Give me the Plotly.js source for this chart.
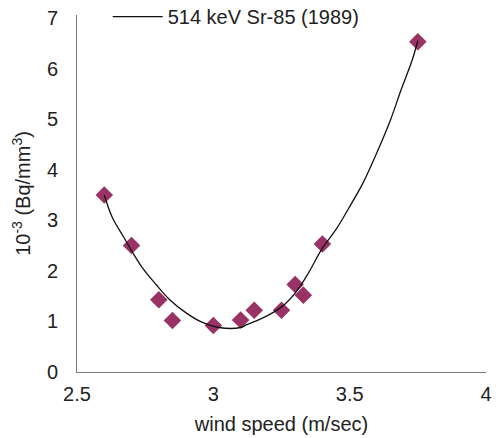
<!DOCTYPE html>
<html>
<head>
<meta charset="utf-8">
<script src="https://cdn.plot.ly/plotly-3.0.1.min.js"></script>
<style>html,body{margin:0;padding:0;background:#fff;}#chart{width:496px;height:438px;}</style>
</head>
<body>
<div id="chart"></div>
<script>
// Measured points
const windSpeed = [2.6, 2.7, 2.8, 2.85, 3.0, 3.1, 3.15, 3.25, 3.3, 3.33, 3.4, 3.75];
const activity  = [3.5, 2.5, 1.43, 1.02, 0.92, 1.03, 1.22, 1.22, 1.73, 1.52, 2.53, 6.53];
// Trend curve
const curveX = [2.60, 2.63, 2.67, 2.70, 2.74, 2.79, 2.84, 2.90, 2.96, 3.02, 3.10, 3.12, 3.17, 3.22, 3.26, 3.31, 3.35, 3.40, 3.45, 3.50, 3.55, 3.60, 3.65, 3.69, 3.73, 3.75];
const curveY = [3.50, 3.05, 2.68, 2.40, 2.06, 1.73, 1.43, 1.17, 0.98, 0.88, 0.88, 0.93, 1.04, 1.18, 1.33, 1.63, 1.97, 2.45, 2.82, 3.27, 3.75, 4.34, 4.99, 5.60, 6.18, 6.55];
const seriesName = "514 keV Sr-85 (1989)";
const xTicks = [2.5, 3, 3.5, 4];
const xTickText = ["2.5", "3", "3.5", "4"];
const yTicks = [0, 1, 2, 3, 4, 5, 6, 7];

const font = "Liberation Sans, Arial, Helvetica, sans-serif";
const traces = [
  {x: windSpeed, y: activity, type: "scatter", mode: "markers", showlegend: false,
   marker: {symbol: "diamond", size: 13.5, color: "#993366"}},
  {x: curveX, y: curveY, type: "scatter", mode: "lines", name: seriesName,
   line: {color: "#111", width: 1.3, shape: "spline"}}
];
const layout = {
  width: 496, height: 438,
  margin: {l: 77, r: 10, t: 15, b: 66, autoexpand: false},
  paper_bgcolor: "#fff", plot_bgcolor: "#fff",
  font: {family: font, size: 20, color: "#222"},
  showlegend: true,
  legend: {x: 0.075, xanchor: "left", y: 1.05, yanchor: "top", bgcolor: "rgba(0,0,0,0)",
           font: {size: 20, color: "#222"}, itemwidth: 50},
  xaxis: {range: [2.5, 4], tickvals: xTicks, ticktext: xTickText, showgrid: false, zeroline: false,
          showline: true, linecolor: "#777", linewidth: 1, ticks: "", ticklabelstandoff: 4,
          title: {text: "wind speed (m/sec)", font: {size: 20}, standoff: 12}},
  yaxis: {range: [0, 7.06], tickvals: yTicks, showgrid: false, zeroline: false,
          showline: true, linecolor: "#777", linewidth: 1, ticks: "", ticklabelstandoff: 14,
          title: {text: "10<sup>-3</sup> (Bq/mm<sup>3</sup>)", font: {size: 20}, standoff: 10}}
};
Plotly.newPlot("chart", traces, layout, {displayModeBar: false, staticPlot: true});
</script>
</body>
</html>
